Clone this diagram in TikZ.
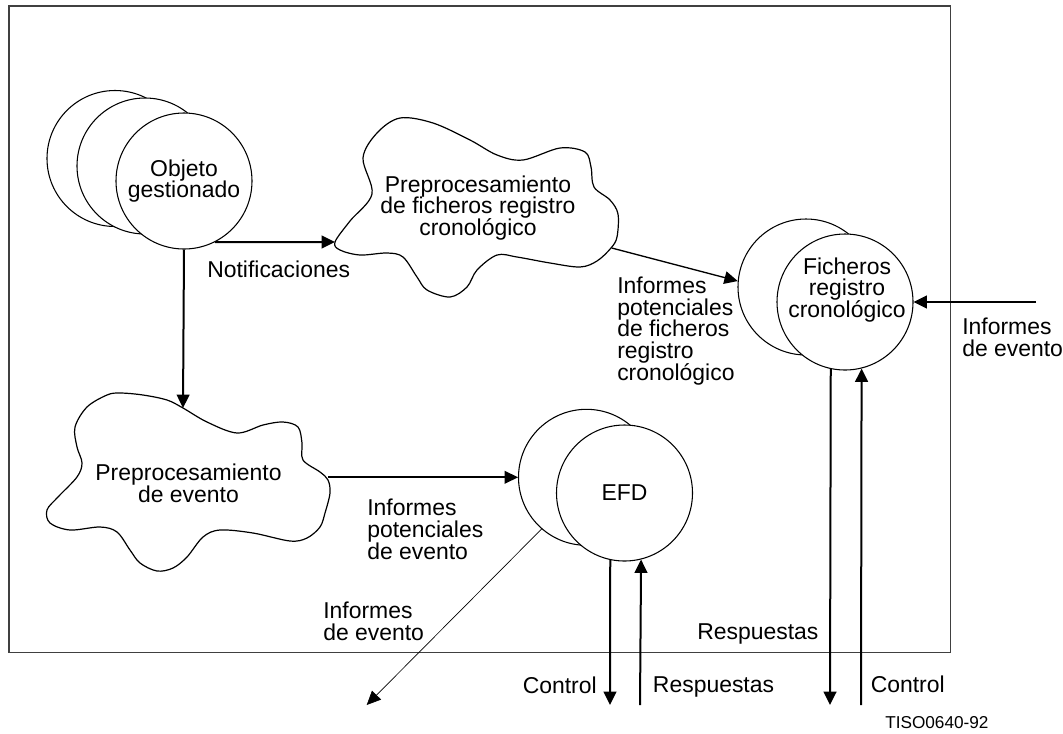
\documentclass[tikz,border=0pt]{standalone}
\usepackage{fontspec}
\setmainfont{Liberation Sans}
\usetikzlibrary{arrows.meta}
\lineskiplimit=-50pt
\begin{document}
\begin{tikzpicture}[x=0.75pt,y=-0.75pt,
  txt/.style={font=\fontsize{17.2}{16.3}\selectfont, inner sep=0pt, align=center},
  txtl/.style={txt, align=left, anchor=west},
  circ/.style={circle, draw, line width=0.8pt, fill=white, minimum size=102pt, inner sep=0pt},
  cloudline/.style={draw, line width=0.9pt, line join=round},
  flow/.style={line width=1.5pt, -{Triangle[length=10pt,width=9.5pt]}},
  thinflow/.style={line width=0.5pt, -{Triangle[length=10.5pt,width=9.5pt]}},
  framebox/.style={draw=black!75, line width=1.1pt}]
\useasboundingbox (0,0) rectangle (1063,733);

% frame
\draw[framebox] (9,6) rectangle (950.7,652.7);

% Objeto gestionado (three stacked circles)
\node[circ] (ob1) at (115,158.5) {};
\node[circ] (ob2) at (145,166) {};
\node[circ, txt] (obj) at (184,181) {Objeto\\gestionado};

% cloud 1
\draw[cloudline] plot[smooth cycle, tension=0.55] coordinates {
 (335,242) (350,221) (372,194) (363,158) (377,133) (400,118) (433,123)
 (470,140) (497,155) (523,160) (560,148) (585,152) (591,167) (594,187)
 (610,200) (618,214) (617,237) (611,248) (597,261) (580,267) (550,263)
 (517,257) (497,255) (477,270) (467,287) (450,297) (427,290) (417,277)
 (403,257) (387,253) (360,255) (340,250)};
\node[txt] (c1) at (478,208) {Preprocesamiento\\de ficheros registro\\cronológico};
\coordinate (c1w) at (335,242);
\coordinate (c1e) at (611.7,248);

% cloud 2
\draw[cloudline] plot[smooth cycle, tension=0.55] coordinates {
 (183,408) (207,422) (237,433) (263,425) (283,422) (298,427) (302,443)
 (303,460) (320,472) (328,480) (330,493) (325,513) (320,527) (307,538)
 (290,541) (253,533) (220,530) (203,537) (187,557) (173,568) (157,571)
 (140,563) (130,550) (117,532) (100,527) (70,530) (50,523) (47,510)
 (58,497) (77,477) (82,463) (77,447) (75,427) (87,407) (107,395)
 (120,393) (143,395) (167,400)};
\node[txt] (c2) at (188.5,483.5) {Preprocesamiento\\de evento};
\coordinate (c2n) at (183,408);
\coordinate (c2e) at (328,477.3);

% Ficheros registro cronologico
\node[circ] (fb) at (806,287) {};
\node[circ] (ff) at (845,302) {};
\node[txt] (fftxt) at (847,290) {Ficheros\\registro\\cronológico};

% EFD
\node[circ] (eb) at (586.5,477.3) {};
\node[circ, txt] (ef) at (624.5,493) {EFD};

% free ends
\coordinate (inR) at (1036,302);
\coordinate (diagEnd) at (366.7,705);
\coordinate (efdDown) at (610,705);
\coordinate (efdUp) at (640,705);
\coordinate (ficDown) at (830,705);
\coordinate (ficUp) at (861,705);

% connectors
\draw[flow] (obj.-63.8) -- (c1w);
\draw[flow] (obj.south) -- (c2n);
\draw[flow, line width=1pt] (c1e) -- (fb.175);
\draw[flow] (inR) -- (ff.east);
\draw[flow] (c2e) -- (eb.west);
\draw[thinflow] (eb.229.5) -- (diagEnd);
\draw[flow] (ef.-102.3) -- (efdDown);
\draw[flow] (efdUp) -- (ef.-76.8);
\draw[flow] (ff.-102.7) -- (ficDown);
\draw[flow] (ficUp) -- (ff.-76.4);

% labels
\node[txtl] (lNot) at (207,269) {Notificaciones};
\node[txtl] (lIPF) at (617,331) {Informes\\potenciales\\de ficheros\\registro\\cronológico};
\node[txtl] (lIER) at (962,337) {Informes\\de evento};
\node[txtl] (lIPE) at (367,529.5) {Informes\\potenciales\\de evento};
\node[txtl] (lIED) at (323,621.5) {Informes\\de evento};
\node[txtl] (lRin) at (697,634) {Respuestas};
\node[txt, anchor=east] (lCe) at (597,685) {Control};
\node[txtl] (lRe) at (652.7,687) {Respuestas};
\node[txtl] (lCf) at (870.5,684) {Control};
\node[txtl, font=\fontsize{12.9}{14}\selectfont] (tiso) at (885,723) {TISO0640-92};
\end{tikzpicture}
\end{document}
